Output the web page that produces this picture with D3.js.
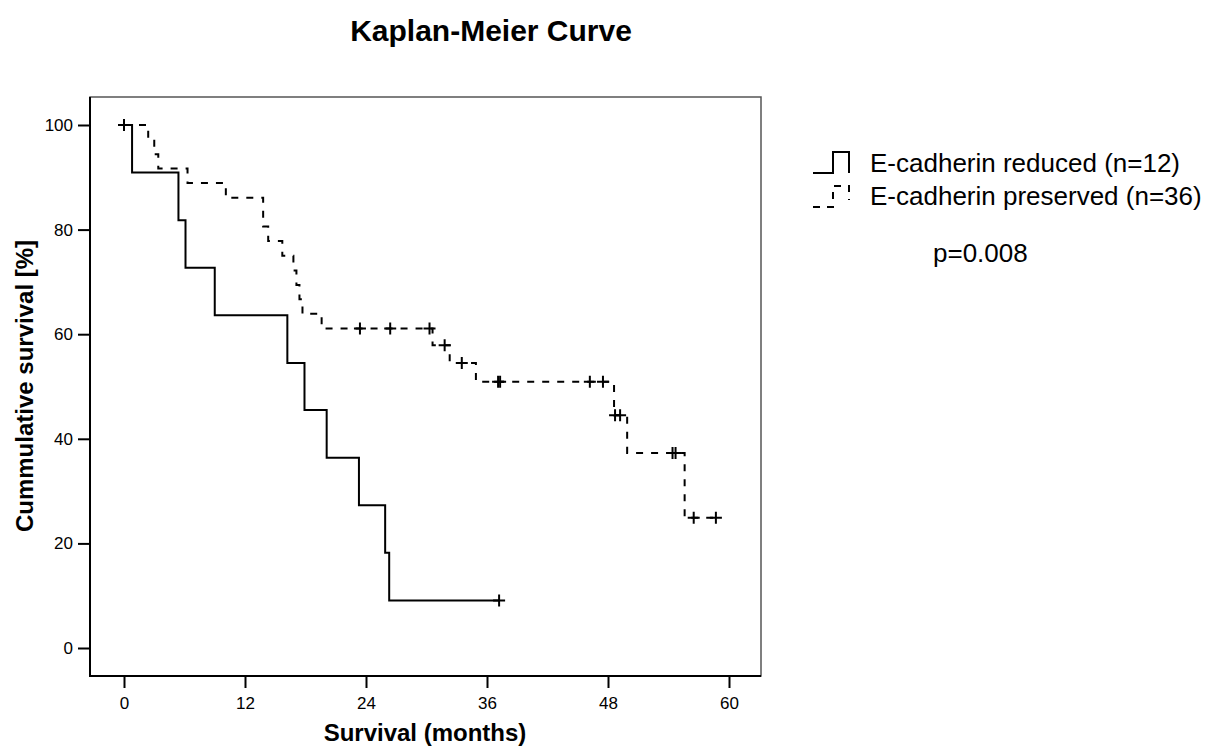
<!DOCTYPE html>
<html><head><meta charset="utf-8">
<script src="https://cdn.jsdelivr.net/npm/d3@7"></script>
<style>body{margin:0;background:#fff}svg{display:block}text{font-family:"Liberation Sans",Arial,sans-serif;fill:#000}</style>
</head><body>
<svg id="c" width="1209" height="749"></svg>
<script>
// ---- data ----
const xTicks = [0, 12, 24, 36, 48, 60];
const yTicks = [0, 20, 40, 60, 80, 100];
const seriesNames = ["E-cadherin reduced (n=12)", "E-cadherin preserved (n=36)"];
// E-cadherin reduced: event times (months) and survival (%) after each event
const reducedEventTimes = [0.8, 5.4, 6.1, 9.0, 16.2, 17.9, 20.1, 23.3, 25.9, 26.3];
const reducedSurvival   = [90.9, 81.8, 72.7, 63.6, 54.5, 45.5, 36.4, 27.3, 18.2, 9.1];
const reducedCensored   = [0, 37.2];
const reducedEnd = 37.2;
// E-cadherin preserved
const preservedEventTimes = [2.4, 3.0, 3.4, 6.3, 10.1, 13.8, 14.3, 15.7, 16.8, 17.1, 17.4, 17.7, 19.6, 30.6, 32.3, 34.9, 48.6, 49.9, 55.6];
const preservedSurvival   = [97.2, 94.4, 91.7, 88.9, 86.1, 80.6, 77.8, 75.0, 72.2, 69.4, 66.7, 63.9, 61.1, 57.9, 54.5, 50.9, 44.5, 37.3, 24.9];
const preservedCensored   = [23.4, 26.4, 30.3, 31.8, 33.5, 37.1, 37.3, 46.2, 47.5, 48.7, 49.2, 54.4, 54.7, 56.5, 58.7];
const preservedEnd = 58.7;
const pValueText = "p=0.008";
const titleText = "Kaplan-Meier Curve";
const xTitle = "Survival (months)";
const yTitle = "Cummulative survival [%]";

// ---- drawing ----
const svg = d3.select("#c");
const x = d3.scaleLinear().domain([0, 60]).range([124, 729]);
const y = d3.scaleLinear().domain([0, 100]).range([648, 125]);
const frame = {l: 90, r: 761, t: 97, b: 676};

svg.append("text").attr("x", 491).attr("y", 41).attr("text-anchor", "middle")
  .style("font-size", "30px").style("font-weight", "bold").text(titleText);

// frame
svg.append("rect").attr("x", frame.l).attr("y", frame.t)
  .attr("width", frame.r - frame.l).attr("height", frame.b - frame.t)
  .attr("fill", "none").attr("stroke", "#555").attr("stroke-width", 1.5);

// axes
const yAxis = d3.axisLeft(y).tickValues(yTicks).tickSize(12).tickPadding(5);
const gy = svg.append("g").attr("transform", `translate(${frame.l},0)`).call(yAxis);
const xAxis = d3.axisBottom(x).tickValues(xTicks).tickSize(12).tickPadding(9);
const gx = svg.append("g").attr("transform", `translate(0,${frame.b})`).call(xAxis);
[gy, gx].forEach(g => {
  g.select(".domain").remove();
  g.selectAll(".tick line").attr("stroke", "#000").attr("stroke-width", 2);
  g.selectAll(".tick text").style("font-size", "17px").attr("fill", "#222")
    .style("font-family", '"Liberation Sans",Arial,sans-serif');
});
svg.append("line").attr("x1", frame.l).attr("x2", frame.l).attr("y1", frame.t).attr("y2", frame.b + 1)
  .attr("stroke", "#000").attr("stroke-width", 2);
svg.append("line").attr("x1", frame.l - 1).attr("x2", frame.r).attr("y1", frame.b).attr("y2", frame.b)
  .attr("stroke", "#000").attr("stroke-width", 2);

svg.append("text").attr("transform", `translate(33,386) rotate(-90)`).attr("text-anchor", "middle")
  .style("font-size", "24px").style("font-weight", "bold").text(yTitle);
svg.append("text").attr("x", 425).attr("y", 741).attr("text-anchor", "middle")
  .style("font-size", "24px").style("font-weight", "bold").text(xTitle);

function stepPoints(times, surv, end) {
  const pts = [[0, 100]];
  times.forEach((t, i) => pts.push([t, surv[i]]));
  pts.push([end, surv[surv.length - 1]]);
  return pts;
}
function survAt(times, surv, t) {
  let s = 100;
  times.forEach((tt, i) => { if (tt <= t) s = surv[i]; });
  return s;
}
const line = d3.line().x(d => x(d[0])).y(d => y(d[1])).curve(d3.curveStepAfter);

const series = [
  {times: reducedEventTimes, surv: reducedSurvival, cens: reducedCensored, end: reducedEnd, dash: null},
  {times: preservedEventTimes, surv: preservedSurvival, cens: preservedCensored, end: preservedEnd, dash: "7,8"}
];
series.forEach(s => {
  svg.append("path").attr("d", line(stepPoints(s.times, s.surv, s.end)))
    .attr("fill", "none").attr("stroke", "#000").attr("stroke-width", 2)
    .attr("stroke-dasharray", s.dash);
  const g = svg.append("g");
  s.cens.forEach(t => {
    const cx = x(t), cy = y(survAt(s.times, s.surv, t));
    g.append("path").attr("d", `M${cx - 6},${cy}H${cx + 6}M${cx},${cy - 6}V${cy + 6}`)
      .attr("stroke", "#000").attr("stroke-width", 2).attr("fill", "none");
  });
});

// legend
const leg = svg.append("g");
leg.append("path").attr("d", "M813,173H833V152H849V173").attr("fill", "none")
  .attr("stroke", "#000").attr("stroke-width", 2);
leg.append("path").attr("d", "M813,207H833V186H849V200").attr("fill", "none")
  .attr("stroke", "#000").attr("stroke-width", 2).attr("stroke-dasharray", "7,7");
seriesNames.forEach((n, i) => {
  leg.append("text").attr("x", 870).attr("y", 172 + i * 33).style("font-size", "26px").text(n);
});
svg.append("text").attr("x", 933).attr("y", 262).style("font-size", "26px").text(pValueText);
</script>
</body></html>
